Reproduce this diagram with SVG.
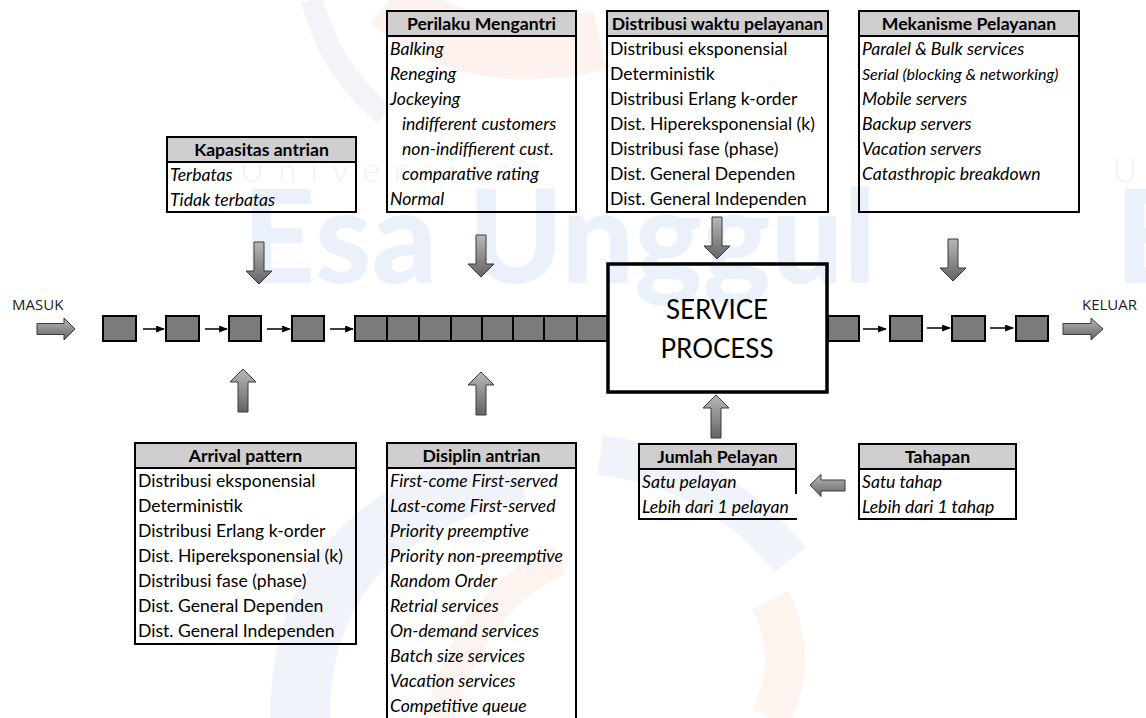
<svg xmlns="http://www.w3.org/2000/svg" width="1146" height="718" viewBox="0 0 1146 718">
<style>
.hdr{fill:#d0cece;stroke:#000;stroke-width:2}
.box{fill:none;stroke:#000;stroke-width:2}
.ht{font-family:Lato,"Open Sans",sans-serif;font-size:17.6px;font-weight:bold;fill:#000;text-anchor:middle}
.t{font-family:Lato,"Open Sans",sans-serif;font-size:17.6px;fill:#000}
.i{font-style:italic}
.lbl{font-family:"Open Sans",sans-serif;font-size:15px;fill:#222}
.big{font-family:Lato,"Open Sans",sans-serif;font-size:26px;fill:#000;text-anchor:middle}
.sq{fill:#7b7b7b;stroke:#000;stroke-width:2}
.sm{stroke:#000;stroke-width:1.5;fill:none}
.blk{fill:url(#gr);stroke:#3a3a3a;stroke-width:1}
.wm1{font-family:Lato,sans-serif;font-weight:300;font-size:33px;fill:#edf2f9}
.wm2{font-family:Lato,sans-serif;font-weight:900;font-size:130px;fill:#ebf1fa}
</style>
<defs>
<linearGradient id="gr" x1="0" y1="0" x2="0" y2="1">
<stop offset="0" stop-color="#b8b8b8"/>
<stop offset="1" stop-color="#646464"/>
</linearGradient>
<marker id="ah" viewBox="0 0 10 8" refX="9" refY="4" markerWidth="9" markerHeight="7" markerUnits="userSpaceOnUse" orient="auto">
<path d="M0,0 L10,4 L0,8 Z" fill="#000"/>
</marker>
<path id="dn" d="M-5,0 H5 V29 H13 L0,42 L-13,29 H-5 Z"/>
<path id="up" d="M0,0 L13,13 H5 V43 H-5 V13 H-13 Z"/>
</defs>
<rect width="1146" height="718" fill="#fff"/>
<g id="watermark">
<path d="M312,0 Q330,70 385,115" stroke="#f2f4f8" stroke-width="22" fill="none"/>
<path d="M390,0 Q470,70 600,40" stroke="#fdf2ee" stroke-width="60" fill="none"/>
<path d="M300,718 Q300,520 520,470" stroke="#f0f4fa" stroke-width="60" fill="none"/>
<path d="M600,455 Q720,470 790,560" stroke="#f0f4fa" stroke-width="40" fill="none"/>
<path d="M770,600 Q800,660 770,718" stroke="#fdf3ef" stroke-width="40" fill="none"/>
<path d="M440,718 Q470,600 560,560" stroke="#fdf4f0" stroke-width="30" fill="none"/>
<text class="wm1" x="240" y="182" textLength="300" lengthAdjust="spacing">Universitas</text>
<text class="wm2" x="242" y="283" textLength="634" lengthAdjust="spacingAndGlyphs">Esa Unggul</text>
<text class="wm1" x="1113" y="182">U</text>
<text class="wm2" x="1115" y="283">E</text>
</g>
<g id="connectors">
<line class="sm" x1="143" y1="329" x2="164" y2="329" marker-end="url(#ah)"/>
<line class="sm" x1="205" y1="329" x2="227" y2="329" marker-end="url(#ah)"/>
<line class="sm" x1="267" y1="329" x2="290" y2="329" marker-end="url(#ah)"/>
<line class="sm" x1="330" y1="329" x2="353" y2="329" marker-end="url(#ah)"/>
<line class="sm" x1="863" y1="329" x2="886" y2="329" marker-end="url(#ah)"/>
<line class="sm" x1="927" y1="328" x2="950" y2="328" marker-end="url(#ah)"/>
<line class="sm" x1="990" y1="328" x2="1013" y2="328" marker-end="url(#ah)"/>
<use href="#dn" class="blk" x="259" y="242"/>
<use href="#dn" class="blk" x="481" y="235"/>
<use href="#dn" class="blk" x="717" y="217"/>
<use href="#dn" class="blk" x="953" y="239"/>
<use href="#up" class="blk" x="243" y="369"/>
<use href="#up" class="blk" x="481" y="372"/>
<use href="#up" class="blk" x="716" y="395"/>
<path class="blk" d="M810,485 L821,474.5 V480 H845 V491 H821 V496.5 Z"/>
<path class="blk" d="M37,323.5 H64 V318 L75,329 L64,340 V334.5 H37 Z"/>
<path class="blk" d="M1063,323.5 H1091 V318 L1103,329 L1091,340 V334.5 H1063 Z"/>
</g>
<g id="labels">
<text class="lbl" x="12" y="310">MASUK</text>
<text class="lbl" x="1082" y="310">KELUAR</text>
</g>
<g id="queue">
<rect class="sq" x="103" y="316" width="33" height="25"/>
<rect class="sq" x="166" y="316" width="33" height="25"/>
<rect class="sq" x="229" y="316" width="32" height="25"/>
<rect class="sq" x="292" y="316" width="32" height="25"/>
<rect class="sq" x="355" y="316" width="32" height="25"/>
<rect class="sq" x="387" y="316" width="32" height="25"/>
<rect class="sq" x="419" y="316" width="32" height="25"/>
<rect class="sq" x="451" y="316" width="31" height="25"/>
<rect class="sq" x="482" y="316" width="31" height="25"/>
<rect class="sq" x="513" y="316" width="31" height="25"/>
<rect class="sq" x="544" y="316" width="33" height="25"/>
<rect class="sq" x="577" y="316" width="31" height="25"/>
<rect class="sq" x="828" y="316" width="31" height="25"/>
<rect class="sq" x="890" y="316" width="32" height="25"/>
<rect class="sq" x="952" y="316" width="33" height="25"/>
<rect class="sq" x="1016" y="316" width="32" height="25"/>
</g>
<g id="service">
<rect x="608" y="264" width="219" height="128" fill="none" stroke="#000" stroke-width="3.5"/>
<text class="big" x="717" y="319">SERVICE</text>
<text class="big" x="717" y="358">PROCESS</text>
</g>
<g id="kapasitas">
<rect class="hdr" x="167" y="137" width="189" height="25"/>
<rect class="box" x="167" y="137" width="189" height="75"/>
<text class="ht" x="261.5" y="156">Kapasitas antrian</text>
<text class="t i" x="170" y="181">Terbatas</text>
<text class="t i" x="170" y="206">Tidak terbatas</text>
</g>
<g id="perilaku">
<rect class="hdr" x="387" y="11" width="189" height="25"/>
<rect class="box" x="387" y="11" width="189" height="201"/>
<text class="ht" x="481.5" y="30">Perilaku Mengantri</text>
<text class="t i" x="390" y="55">Balking</text>
<text class="t i" x="390" y="80">Reneging</text>
<text class="t i" x="390" y="105">Jockeying</text>
<text class="t i" x="402" y="130">indifferent customers</text>
<text class="t i" x="402" y="155">non-indiffierent cust.</text>
<text class="t i" x="402" y="180">comparative rating</text>
<text class="t i" x="390" y="205">Normal</text>
</g>
<g id="distribusi">
<rect class="hdr" x="607" y="11" width="221" height="25"/>
<rect class="box" x="607" y="11" width="221" height="201"/>
<text class="ht" x="717.5" y="30">Distribusi waktu pelayanan</text>
<text class="t" x="610" y="55">Distribusi eksponensial</text>
<text class="t" x="610" y="80">Deterministik</text>
<text class="t" x="610" y="105">Distribusi Erlang k-order</text>
<text class="t" x="610" y="130">Dist. Hipereksponensial (k)</text>
<text class="t" x="610" y="155">Distribusi fase (phase)</text>
<text class="t" x="610" y="180">Dist. General Dependen</text>
<text class="t" x="610" y="205">Dist. General Independen</text>
</g>
<g id="mekanisme">
<rect class="hdr" x="859" y="11" width="220" height="25"/>
<rect class="box" x="859" y="11" width="220" height="201"/>
<text class="ht" x="969" y="30">Mekanisme Pelayanan</text>
<text class="t i" x="862" y="55">Paralel &amp; Bulk services</text>
<text class="t i" x="862" y="80" style="font-size:16px">Serial (blocking &amp; networking)</text>
<text class="t i" x="862" y="105">Mobile servers</text>
<text class="t i" x="862" y="130">Backup servers</text>
<text class="t i" x="862" y="155">Vacation servers</text>
<text class="t i" x="862" y="180">Catasthropic breakdown</text>
</g>
<g id="arrival">
<rect class="hdr" x="135" y="443" width="221" height="25"/>
<rect class="box" x="135" y="443" width="221" height="201"/>
<text class="ht" x="245.5" y="462">Arrival pattern</text>
<text class="t" x="138" y="487">Distribusi eksponensial</text>
<text class="t" x="138" y="512">Deterministik</text>
<text class="t" x="138" y="537">Distribusi Erlang k-order</text>
<text class="t" x="138" y="562">Dist. Hipereksponensial (k)</text>
<text class="t" x="138" y="587">Distribusi fase (phase)</text>
<text class="t" x="138" y="612">Dist. General Dependen</text>
<text class="t" x="138" y="637">Dist. General Independen</text>
</g>
<g id="disiplin">
<rect class="hdr" x="387" y="443" width="189" height="25"/>
<rect class="box" x="387" y="443" width="189" height="276"/>
<text class="ht" x="481.5" y="462">Disiplin antrian</text>
<text class="t i" x="390" y="487">First-come First-served</text>
<text class="t i" x="390" y="512">Last-come First-served</text>
<text class="t i" x="390" y="537">Priority preemptive</text>
<text class="t i" x="390" y="562">Priority non-preemptive</text>
<text class="t i" x="390" y="587">Random Order</text>
<text class="t i" x="390" y="612">Retrial services</text>
<text class="t i" x="390" y="637">On-demand services</text>
<text class="t i" x="390" y="662">Batch size services</text>
<text class="t i" x="390" y="687">Vacation services</text>
<text class="t i" x="390" y="712">Competitive queue</text>
</g>
<g id="jumlah">
<rect class="hdr" x="639" y="444" width="157" height="25"/>
<path class="box" d="M796,494 V444 H639 V519 H797"/>
<text class="ht" x="717.5" y="463">Jumlah Pelayan</text>
<text class="t i" x="642" y="488">Satu pelayan</text>
<text class="t i" x="642" y="513">Lebih dari 1 pelayan</text>
</g>
<g id="tahapan">
<rect class="hdr" x="859" y="444" width="157" height="25"/>
<rect class="box" x="859" y="444" width="157" height="75"/>
<text class="ht" x="937.5" y="463">Tahapan</text>
<text class="t i" x="862" y="488">Satu tahap</text>
<text class="t i" x="862" y="513">Lebih dari 1 tahap</text>
</g>
</svg>
